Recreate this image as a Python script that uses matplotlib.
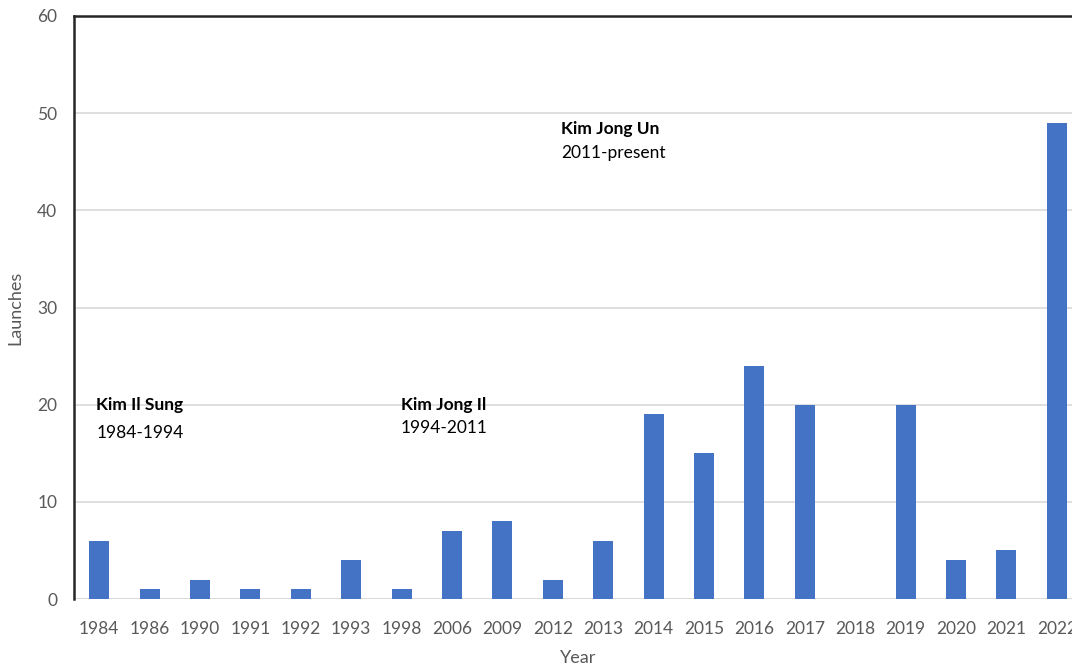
import matplotlib
matplotlib.use("Agg")
import matplotlib.pyplot as plt
import numpy as np

years = ["1984", "1986", "1990", "1991", "1992", "1993", "1998", "2006", "2009", "2012",
         "2013", "2014", "2015", "2016", "2017", "2018", "2019", "2020", "2021", "2022"]
launches = [6, 1, 2, 1, 1, 4, 1, 7, 8, 2, 6, 19, 15, 24, 20, 0, 20, 4, 5, 49]

leaders = ["Kim Il Sung", "Kim Jong Il", "Kim Jong Un"]
terms = ["1984-1994", "1994-2011", "2011-present"]

plt.rcParams["font.family"] = ["Lato", "DejaVu Sans"]

fig = plt.figure(figsize=(10.72, 6.66), dpi=100)
ax = fig.add_axes([74 / 1072, 1 - 599 / 666, 1008 / 1072, 583 / 666])

x = np.arange(len(years))
ax.bar(x, launches, width=0.4, color="#4472C4", zorder=3)

ax.set_xlim(-0.5, len(years) - 0.5)
ax.set_ylim(0, 60)
ax.set_yticks(np.arange(0, 61, 10))
ax.set_xticks(x)
ax.set_xticklabels(years)
ax.yaxis.grid(True, color="#d9d9d9", linewidth=1.2, zorder=0)
ax.tick_params(axis="both", length=0, labelsize=12.5, colors="#595959")
ax.tick_params(axis="x", pad=16)
ax.tick_params(axis="y", pad=12)

for side in ["right", "bottom"]:
    ax.spines[side].set_visible(False)
for side in ["left", "top"]:
    ax.spines[side].set_color("#262626")
    ax.spines[side].set_linewidth(1.8)
ax.axhline(0, color="#d9d9d9", linewidth=1.2, zorder=1)

ax.set_xlabel("Year", fontsize=13, color="#595959", labelpad=9)
ax.set_ylabel("Launches", fontsize=13, color="#595959", labelpad=10)

# leader annotations: name (bold) over term years
label_pos = [(-0.06, 20.0, 17.1), (5.99, 20.0, 17.6), (9.17, 48.4, 45.9)]
for (lx, ny, ty), name, term in zip(label_pos, leaders, terms):
    ax.text(lx, ny, name, fontsize=12.5, fontweight="bold", color="#000000",
            va="center", ha="left", zorder=4)
    ax.text(lx, ty, term, fontsize=12.5, color="#000000", va="center", ha="left", zorder=4)

fig.savefig("out.png", dpi=100)
